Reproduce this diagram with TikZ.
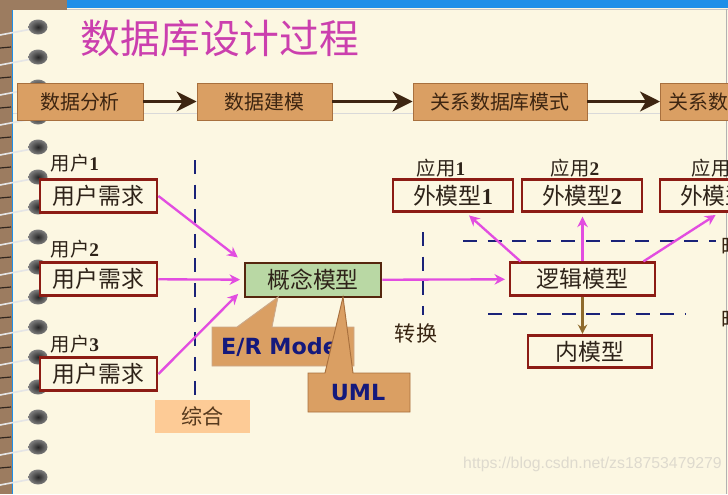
\documentclass[tikz,border=0pt]{standalone}
\usepackage{fontspec}
\setmainfont{Liberation Serif}
\newfontfamily\cjk{Noto Sans CJK SC}
\newfontfamily\numfont{Liberation Serif}
\newfontfamily\erfont{DejaVu Sans}
\newfontfamily\wmfont{Liberation Sans}
\usepackage{xcolor}
\usetikzlibrary{arrows.meta}
\usetikzlibrary{calc}

\definecolor{paper}{HTML}{FCF7E2}
\definecolor{spine}{HTML}{9C7C60}
\definecolor{band}{HTML}{1E8FE8}
\definecolor{boxtan}{HTML}{DA9F63}
\definecolor{tanline}{HTML}{A8703E}
\definecolor{boxred}{HTML}{8C1C14}
\definecolor{leaf}{HTML}{B9D8A4}
\definecolor{bark}{HTML}{55260E}
\definecolor{pinkarrow}{HTML}{E24DE0}
\definecolor{navyline}{HTML}{1A2278}
\definecolor{darkbrown}{HTML}{3D2511}
\definecolor{ochre}{HTML}{8E6A2C}
\definecolor{peach}{HTML}{FDCB96}
\definecolor{titlemag}{HTML}{CB3FAE}
\definecolor{inktext}{HTML}{2E2319}
\definecolor{ernavy}{HTML}{14197C}
\definecolor{wmgray}{HTML}{DEDACE}

\newcommand\dgt[1]{{\numfont\bfseries #1}}

\tikzset{
  topbox/.style={draw=tanline, fill=boxtan, line width=0.8pt, minimum height=1.11cm, inner sep=0pt, text=darkbrown, font=\cjk\fontsize{17}{17}\selectfont},
  redbox/.style={draw=boxred, fill=paper, line width=2.4pt, minimum height=0.97cm, inner sep=0pt, text=inktext, font=\cjk\fontsize{19.5}{20}\selectfont},
  greenbox/.style={draw=bark, fill=leaf, line width=2.4pt, minimum height=1.02cm, inner sep=0pt, text=inktext, font=\cjk\fontsize{19.5}{20}\selectfont},
  lab/.style={inner sep=0pt, text=inktext, font=\cjk\fontsize{16.5}{17}\selectfont},
  plain/.style={inner sep=0pt, text=black!70!brown, font=\cjk\fontsize{18}{18}\selectfont},
  bigarrow/.style={draw=darkbrown, line width=2.6pt, -{Stealth[length=17pt,width=17pt,inset=5pt]}},
  magarrow/.style={draw=pinkarrow, line width=2pt, shorten >=3pt, -{Stealth[length=9pt,width=9pt]}},
  navydash/.style={draw=navyline, line width=2.5pt, dash pattern=on 12pt off 9pt},
  callout/.style={fill=boxtan, draw=#1, line width=0.8pt},
  calltext/.style={inner sep=0pt, text=ernavy, font=\erfont\bfseries\fontsize{19}{19}\selectfont}
}

\begin{document}
\begin{tikzpicture}[x=0.03cm,y=-0.03cm]
\useasboundingbox (0,0) rectangle (728,494);
\clip (0,0) rectangle (728,494);
\fill[paper] (0,0) rectangle (728,494);
\fill[spine] (0,0) rectangle (12,494);
\fill[spine] (0,0) rectangle (67,10);
\fill[band] (67,0) rectangle (728,8);
\draw[band, line width=1pt] (12.5,10) -- (12.5,494);
\draw[gray!45, line width=0.6pt] (67,9) -- (728,9);
\draw[gray!60, line width=0.8pt] (726,9) -- (726,494);
\draw[black!15, line width=0.8pt] (13,113) -- (728,113);

% binding rings
\foreach \ry in {27,57,...,477}{
  \draw[black!70!spine, line width=1pt] (0,\ry+21) -- (11,\ry+20);
  \draw[white!80!gray, line width=1.4pt] (32,\ry+2) -- (0,\ry+8);
  \shade[inner color=black!85, outer color=black!50] (38,\ry) ellipse [x radius=9.5, y radius=7.5];
}

\node[text=titlemag, inner sep=0pt, font=\cjk\fontsize{34}{34}\selectfont] (ttl) at (220,38) {数据库设计过程};

\node[topbox, minimum width=3.78cm] (ana) at (80,101.5) {数据分析};
\node[topbox, minimum width=4.05cm] (dmod) at (264.5,101.5) {数据建模};
\node[topbox, minimum width=5.22cm] (rel) at (500,101.5) {关系数据库模式};
\node[topbox, minimum width=3.48cm, anchor=west] (rel2) at (660,101.5) {关系数据库};
\draw[bigarrow] (ana) -- (dmod);
\draw[bigarrow] (dmod) -- (rel);
\draw[bigarrow] (rel) -- (rel2);

\draw[navydash] (195,160) -- (195,398);
\draw[navydash] (423,232) -- (423,315);
\draw[navydash] (463,241) -- (716,241);
\draw[navydash] (488,314) -- (686,314);

\node[lab] (lab1) at (75,163) {用户\dgt{1}};
\node[lab] (lab2) at (75,249) {用户\dgt{2}};
\node[lab] (lab3) at (75,344) {用户\dgt{3}};
\node[redbox, minimum width=3.51cm] (u1) at (98.5,196) {用户需求};
\node[redbox, minimum width=3.51cm] (u2) at (98.5,279) {用户需求};
\node[redbox, minimum width=3.51cm] (u3) at (98.5,374) {用户需求};

\node[greenbox, minimum width=4.08cm] (concept) at (313,280) {概念模型};
\node[redbox, minimum width=4.35cm] (logic) at (582.5,279) {逻辑模型};
\node[redbox, minimum width=3.6cm] (ext1) at (453,195.5) {外模型\dgt{1}};
\node[redbox, minimum width=3.6cm] (ext2) at (582,195.5) {外模型\dgt{2}};
\node[redbox, minimum width=3.6cm] (ext3) at (720,195.5) {外模型\dgt{3}};
\node[lab] (app1) at (441,168) {应用\dgt{1}};
\node[lab] (app2) at (575,168) {应用\dgt{2}};
\node[lab] (app3) at (716,168) {应用\dgt{3}};
\node[redbox, minimum width=3.72cm] (inner) at (590,351.5) {内模型};

\draw[magarrow] (u1.east) -- ($(concept.north west)+(-3,-2)$);
\draw[magarrow] (u2) -- (concept);
\draw[magarrow] (u3.east) -- ($(concept.south west)+(-3,-7)$);
\draw[magarrow] (concept) -- (logic);
\draw[magarrow] ($(logic.north west)+(12,0)$) -- ($(ext1.south east)+(-48,0)$);
\draw[magarrow] (logic.north) -- (logic.north |- ext2.south);
\draw[magarrow] ($(logic.north east)+(-13,0)$) -- ($(ext3.south west)+(60,0)$);
\draw[draw=ochre, line width=2pt, -{Stealth[length=8pt,width=8pt]}] (logic.south) -- (logic.south |- inner.north);

\filldraw[callout=tanline!60] (212,327) -- (237,327) -- (278,297) -- (272,327) -- (354,327) -- (354,366) -- (212,366) -- cycle;
\node[calltext, anchor=west] (er) at (221,347) {E/R Model};
\filldraw[callout=tanline] (308,373) -- (325,373) -- (343,297) -- (353,373) -- (410,373) -- (410,412) -- (308,412) -- cycle;
\node[calltext] (uml) at (358,392.5) {UML};

\node[plain, fill=peach, minimum width=2.85cm, minimum height=0.99cm, text=black!55!brown] (syn) at (202.5,416.5) {综合};
\node[plain] (conv) at (416,333) {转换};
\node[plain, anchor=west] (map1) at (721,247) {映射};
\node[plain, anchor=west] (map2) at (721,319) {映射};

\node[inner sep=0pt, anchor=east, text=wmgray, font=\wmfont\fontsize{13.5}{14}\selectfont] (wm) at (722,464) {https://blog.csdn.net/zs18753479279};
\end{tikzpicture}
\end{document}
